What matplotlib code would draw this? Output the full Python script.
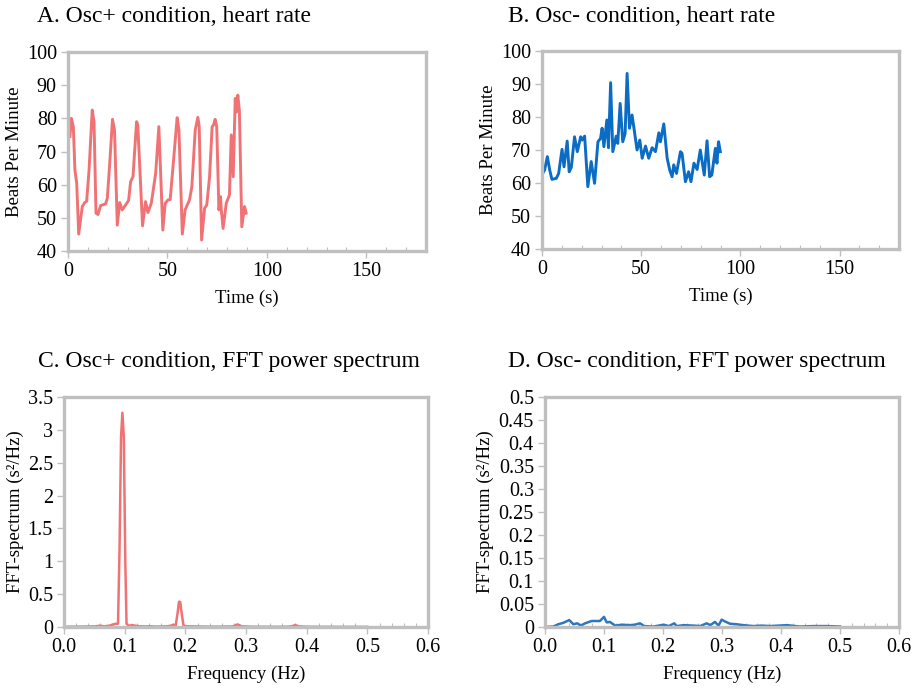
import matplotlib
matplotlib.use('Agg')
import matplotlib.pyplot as plt
from matplotlib.ticker import MultipleLocator, FormatStrFormatter

plt.rcParams['font.family'] = ['Liberation Serif', 'DejaVu Serif']

# 心率数据 (Osc+), 时间 s / bpm
t_pos = [1.0, 1.7, 2.7, 3.5, 4.4, 5.4, 7.2, 8.4, 9.4, 10.6, 12.2, 13.1, 14.1, 15.1, 16.4,
         18.9, 19.8, 21.1, 22.4, 23.4, 24.8, 26.0, 27.3, 29.8, 30.5, 31.5, 32.7, 34.5, 35.1,
         37.5, 39.0, 40.2, 41.9, 44.1, 45.7, 47.7, 48.9, 50.3, 51.4, 53.1, 54.9, 55.8,
         57.5, 58.9, 61.1, 62.3, 64.0, 65.3, 66.0, 67.2, 68.7, 69.8, 71.2, 72.5, 73.2, 74.0,
         74.8, 75.9, 76.7, 77.1, 78.0, 79.6, 81.2, 82.1, 83.1, 84.1, 84.8, 85.4, 86.2,
         87.4, 88.8, 89.6]
hr_pos = [74.5, 80.0, 77.5, 64.4, 60.4, 45.1, 53.4, 54.6, 55.0, 64.4, 82.5, 79.0, 51.4, 51.0, 53.7,
          54.2, 55.9, 67.4, 79.7, 76.5, 47.8, 54.6, 52.4, 54.6, 55.3, 60.9, 62.4, 79.0, 78.0,
          47.6, 54.9, 51.6, 54.4, 63.4, 77.5, 46.3, 54.4, 55.4, 55.5, 67.4, 80.2, 76.5,
          45.1, 52.4, 55.4, 59.4, 76.5, 80.3, 77.5, 43.3, 52.9, 53.9, 62.4, 77.5, 78.0, 79.7,
          77.5, 52.4, 56.4, 52.4, 46.8, 54.4, 56.9, 75.0, 62.4, 86.0, 81.9, 87.0, 82.3,
          47.3, 53.4, 51.4]

# 心率数据 (Osc-)
t_neg = [0.5, 1.3, 2.7, 3.9, 5.0, 7.2, 8.4, 10.1, 11.1, 12.7, 13.7, 14.8, 16.4, 17.8, 19.5,
         20.3, 21.5, 23.1, 24.8, 26.5, 28.2, 29.5, 30.3, 31.2, 32.7, 33.5, 34.6, 35.7, 37.4,
         38.2, 39.4, 40.7, 41.9, 42.9, 44.1, 45.4, 46.6, 47.9, 49.3, 50.5, 52.2, 53.8, 55.5,
         57.2, 58.9, 59.7, 61.4, 63.1, 64.4, 65.6, 66.4, 67.8, 69.8, 70.6, 72.3, 73.9, 75.1,
         76.6, 78.2, 79.8, 81.8, 83.2, 84.5, 85.6, 87.4, 88.2, 89.0, 89.9]
hr_neg = [63.1, 63.9, 68.0, 63.9, 61.1, 61.4, 62.9, 70.2, 64.9, 72.7, 63.4, 64.8, 74.0, 69.5, 74.0,
          73.0, 74.2, 58.9, 66.5, 59.9, 72.5, 73.5, 76.6, 71.0, 79.1, 70.7, 90.4, 69.5, 74.2,
          72.0, 84.1, 72.5, 75.0, 93.2, 76.6, 80.6, 75.6, 70.0, 73.0, 67.5, 71.2, 67.5, 70.7,
          69.5, 75.2, 72.5, 77.9, 67.5, 63.9, 61.9, 65.5, 62.9, 69.5, 69.0, 60.4, 63.4, 60.4,
          66.0, 64.1, 70.0, 62.4, 72.8, 61.9, 62.4, 70.5, 66.0, 72.5, 69.5]

# FFT功率谱 (Osc+)
f_pos = [0.0, 0.02, 0.04, 0.052, 0.059, 0.066, 0.075, 0.081, 0.086, 0.089, 0.0915, 0.094,
         0.0962, 0.0985, 0.101, 0.103, 0.107, 0.1115, 0.117, 0.125, 0.135, 0.142, 0.15, 0.16,
         0.17, 0.176, 0.180, 0.184, 0.187, 0.1895, 0.1915, 0.194, 0.197, 0.205, 0.22, 0.24,
         0.26, 0.278, 0.286, 0.293, 0.31, 0.33, 0.35, 0.37, 0.377, 0.381, 0.387, 0.40, 0.43,
         0.46, 0.5]
p_pos = [0.005, 0.005, 0.008, 0.01, 0.02, 0.01, 0.02, 0.04, 0.05, 0.05, 1.2, 2.9,
         3.26, 2.9, 1.0, 0.05, 0.015, 0.03, 0.02, 0.01, 0.008, 0.012, 0.006, 0.008,
         0.01, 0.02, 0.035, 0.02, 0.2, 0.385, 0.38, 0.2, 0.02, 0.01, 0.008, 0.005,
         0.006, 0.008, 0.04, 0.01, 0.004, 0.004, 0.003, 0.005, 0.015, 0.03, 0.01, 0.004, 0.003,
         0.002, 0.002]

# FFT功率谱 (Osc-)
f_neg = [0.0, 0.014, 0.0226, 0.031, 0.041, 0.048, 0.0548, 0.0605, 0.068, 0.079, 0.093, 0.1,
         0.1045, 0.110, 0.119, 0.130, 0.144, 0.152, 0.161, 0.168, 0.184, 0.201, 0.21, 0.219,
         0.223, 0.235, 0.252, 0.263, 0.274, 0.28, 0.288, 0.294, 0.2994, 0.305, 0.3136, 0.3245,
         0.336, 0.353, 0.367, 0.381, 0.41, 0.432, 0.455, 0.477, 0.5]
p_neg = [0.0, 0.001, 0.006, 0.009, 0.015, 0.006, 0.008, 0.003, 0.008, 0.013, 0.013, 0.022,
         0.01, 0.011, 0.003, 0.005, 0.004, 0.005, 0.008, 0.002, 0.001, 0.005, 0.002, 0.008,
         0.002, 0.004, 0.003, 0.002, 0.008, 0.004, 0.011, 0.003, 0.016, 0.012, 0.007, 0.006,
         0.004, 0.002, 0.003, 0.002, 0.004, 0.001, 0.002, 0.002, 0.001]

red = '#F07274'
blue = '#0A6CC4'
blue2 = '#2F77BC'
grey = '#BFBFBF'

fig = plt.figure(figsize=(9.16, 6.89), dpi=100)

def style(ax):
    for s in ax.spines.values():
        s.set_color(grey)
        s.set_linewidth(2.4)
    ax.tick_params(which='major', direction='out', length=5, width=1, color=grey,
                   labelsize=14.5, pad=3, top=False, right=False)
    ax.tick_params(axis='x', which='minor', direction='in', length=3, width=0.8, color=grey,
                   top=False)
    ax.tick_params(axis='y', which='minor', left=False)

axA = fig.add_axes([0.0742, 0.6357, 0.3908, 0.2888])
axA.plot(t_pos, hr_pos, color=red, lw=2.1, solid_joinstyle='round')
axA.set_xlim(0, 180)
axA.set_ylim(40, 100)
axA.xaxis.set_major_locator(MultipleLocator(50))
axA.xaxis.set_minor_locator(MultipleLocator(10))
axA.yaxis.set_major_locator(MultipleLocator(10))
axA.set_xlabel('Time (s)', fontsize=13.5, labelpad=6)
axA.set_ylabel('Beats Per Minute', fontsize=13.5, labelpad=3)
style(axA)

axB = fig.add_axes([0.5917, 0.6386, 0.3898, 0.2874])
axB.plot(t_neg, hr_neg, color=blue, lw=2.1, solid_joinstyle='round')
axB.set_xlim(0, 180)
axB.set_ylim(40, 100)
axB.xaxis.set_major_locator(MultipleLocator(50))
axB.xaxis.set_minor_locator(MultipleLocator(10))
axB.yaxis.set_major_locator(MultipleLocator(10))
axB.set_xlabel('Time (s)', fontsize=13.5, labelpad=6)
axB.set_ylabel('Beats Per Minute', fontsize=13.5, labelpad=3)
style(axB)

axC = fig.add_axes([0.0699, 0.09, 0.3974, 0.3338])
axC.plot(f_pos, p_pos, color=red, lw=1.8, solid_joinstyle='round')
axC.set_xlim(0, 0.6)
axC.set_ylim(0, 3.5)
axC.xaxis.set_major_locator(MultipleLocator(0.1))
axC.xaxis.set_minor_locator(MultipleLocator(0.02))
axC.xaxis.set_major_formatter(FormatStrFormatter('%.1f'))
axC.yaxis.set_major_locator(MultipleLocator(0.5))
axC.yaxis.set_major_formatter(FormatStrFormatter('%g'))
axC.set_xlabel('Frequency (Hz)', fontsize=13.5, labelpad=6)
axC.set_ylabel('FFT-spectrum (s²/Hz)', fontsize=13.5, labelpad=3)
style(axC)

axD = fig.add_axes([0.595, 0.09, 0.3865, 0.3338])
axD.plot(f_neg, p_neg, color=blue2, lw=1.8, solid_joinstyle='round')
axD.set_xlim(0, 0.6)
axD.set_ylim(0, 0.5)
axD.xaxis.set_major_locator(MultipleLocator(0.1))
axD.xaxis.set_minor_locator(MultipleLocator(0.02))
axD.xaxis.set_major_formatter(FormatStrFormatter('%.1f'))
axD.yaxis.set_major_locator(MultipleLocator(0.05))
axD.yaxis.set_major_formatter(FormatStrFormatter('%g'))
axD.set_xlabel('Frequency (Hz)', fontsize=13.5, labelpad=6)
axD.set_ylabel('FFT-spectrum (s²/Hz)', fontsize=13.5, labelpad=3)
style(axD)

fig.text(37 / 916, 1 - 16 / 689, 'A. Osc+ condition, heart rate', fontsize=17, ha='left', va='center')
fig.text(508 / 916, 1 - 16 / 689, 'B. Osc- condition, heart rate', fontsize=17, ha='left', va='center')
fig.text(38 / 916, 1 - 362 / 689, 'C. Osc+ condition, FFT power spectrum', fontsize=17, ha='left', va='center')
fig.text(508 / 916, 1 - 362 / 689, 'D. Osc- condition, FFT power spectrum', fontsize=17, ha='left', va='center')

plt.savefig('out.png', dpi=100)
